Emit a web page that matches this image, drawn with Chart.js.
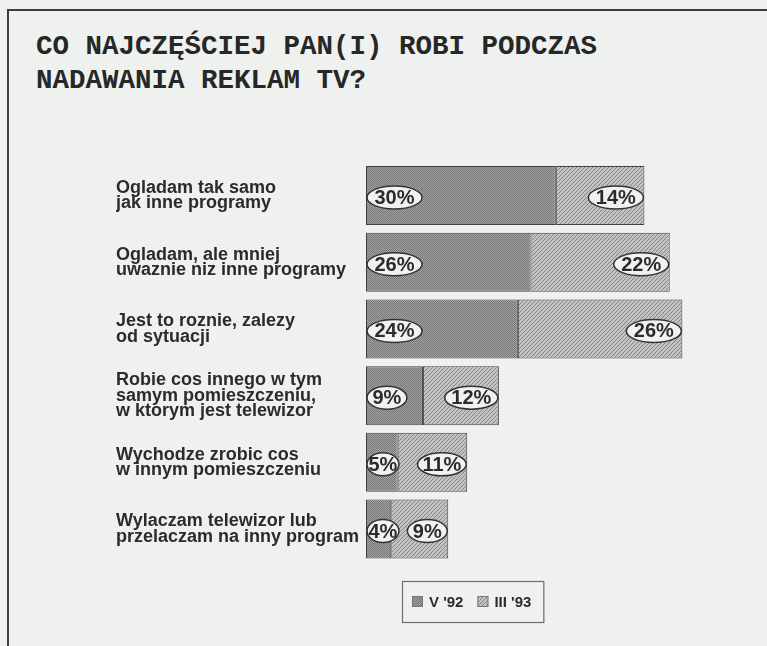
<!DOCTYPE html>
<html lang="pl">
<head>
<meta charset="utf-8">
<title>Co najczęściej pan(i) robi podczas nadawania reklam TV?</title>
<script src="https://cdn.jsdelivr.net/npm/chart.js@4.4.1/dist/chart.umd.min.js"></script>
<style>
  html, body { margin: 0; padding: 0; background: #eff1ef; overflow: hidden; }
  .frame {
    position: absolute; left: 7px; top: 9px; width: 800px; height: 700px;
    border-left: 2px solid #3d3f3e; border-top: 2px solid #3d3f3e;
  }
  h1 {
    position: absolute; left: 36px; top: 30px; margin: 0;
    font: bold 27.5px/34px "Liberation Mono", "Courier New", monospace;
    color: #262727; white-space: pre;
  }
  #chart { position: absolute; left: 9px; top: 11px; }
</style>
</head>
<body>
<div class="frame"></div>
<h1>CO NAJCZĘŚCIEJ PAN(I) ROBI PODCZAS
NADAWANIA REKLAM TV?</h1>
<canvas id="chart" width="750" height="635"></canvas>
<script>
const categories = [
  ['Ogladam tak samo', 'jak inne programy'],
  ['Ogladam, ale mniej', 'uwaznie niz inne programy'],
  ['Jest to roznie, zalezy', 'od sytuacji'],
  ['Robie cos innego w tym', 'samym pomieszczeniu,', 'w ktorym jest telewizor'],
  ['Wychodze zrobic cos', 'w innym pomieszczeniu'],
  ['Wylaczam telewizor lub', 'przelaczam na inny program']
]
const seriesNames = ["V '92", "III '93"]
const v92 = [30, 26, 24, 9, 5, 4]
const iii93 = [14, 22, 26, 12, 11, 9]

const FONT = '"Liberation Sans", Arial, Helvetica, sans-serif'
const INK = '#2a2b2b'

// raster-like fills: fine dots for V '92, diagonal hatch for III '93
function dotPattern() {
  const c = document.createElement('canvas')
  c.width = 2; c.height = 2
  const g = c.getContext('2d')
  g.fillStyle = '#a2a2a2'; g.fillRect(0, 0, 2, 2)
  g.fillStyle = '#777777'; g.fillRect(0, 0, 1, 1); g.fillRect(1, 1, 1, 1)
  return g.createPattern(c, 'repeat')
}
function hatchPattern() {
  const c = document.createElement('canvas')
  c.width = 4; c.height = 4
  const g = c.getContext('2d')
  g.fillStyle = '#c2c2c2'; g.fillRect(0, 0, 4, 4)
  g.fillStyle = '#868686'
  for (let i = 0; i < 4; i++) g.fillRect(3 - i, i, 1, 1)
  return g.createPattern(c, 'repeat')
}
const fills = [dotPattern(), hatchPattern()]

// percent values inside white ovals
const ovalLabels = {
  id: 'ovalLabels',
  afterDatasetsDraw(chart) {
    const ctx = chart.ctx
    ctx.save()
    ctx.font = 'bold 20px ' + FONT
    ctx.textAlign = 'center'
    ctx.textBaseline = 'middle'
    chart.data.datasets.forEach((ds, i) => {
      chart.getDatasetMeta(i).data.forEach((bar, j) => {
        const { x, y, base } = bar.getProps(['x', 'y', 'base'], true)
        const left = Math.min(x, base), right = Math.max(x, base)
        const seg = right - left
        const text = ds.data[j] + '%'
        const tw = ctx.measureText(text).width
        const w = Math.min(Math.max(seg * 0.7, tw + 3), tw + 15)
        const cx = i === 0 ? left + 1 + w / 2 : right - 1 - w / 2
        const cy = y + 2
        ctx.beginPath()
        ctx.ellipse(cx, cy, w / 2, 11.5, 0, 0, Math.PI * 2)
        ctx.fillStyle = '#f1f2f0'
        ctx.fill()
        ctx.lineWidth = 1.5
        ctx.strokeStyle = '#333'
        ctx.stroke()
        ctx.fillStyle = INK
        ctx.fillText(text, cx, cy + 1)
      })
    })
    ctx.restore()
  }
}

// boxed legend under the bars
const boxLegend = {
  id: 'boxLegend',
  afterDraw(chart) {
    const ctx = chart.ctx
    const area = chart.chartArea
    ctx.save()
    ctx.font = 'bold 15px ' + FONT
    ctx.textBaseline = 'middle'
    const left = area.left + 36
    const top = area.bottom + 18.6
    const h = 41
    const cy = top + h / 2
    let x = left + 10
    chart.data.datasets.forEach((ds, i) => {
      ctx.fillStyle = fills[i]
      ctx.fillRect(x, cy - 5.5, 11, 11)
      ctx.strokeStyle = '#777'
      ctx.lineWidth = 1
      ctx.strokeRect(x + 0.5, cy - 5, 10, 10)
      x += 17
      ctx.fillStyle = INK
      ctx.fillText(ds.label, x, cy + 1)
      x += ctx.measureText(ds.label).width + 14
    })
    const w = x - 14 + 12 - left
    ctx.strokeStyle = '#6d6d6d'
    ctx.lineWidth = 1.2
    ctx.strokeRect(left + 0.5, top + 0.5, w, h)
    ctx.restore()
  }
}

new Chart(document.getElementById('chart'), {
  type: 'bar',
  data: {
    labels: categories,
    datasets: [
      {
        label: seriesNames[0],
        data: v92,
        backgroundColor: fills[0],
        borderColor: '#404040',
        borderWidth: 1,
        borderSkipped: false
      },
      {
        label: seriesNames[1],
        data: iii93,
        backgroundColor: fills[1],
        borderColor: '#404040',
        borderWidth: 1,
        borderSkipped: false
      }
    ]
  },
  options: {
    indexAxis: 'y',
    responsive: false,
    animation: false,
    layout: { padding: { left: 107, right: 45, top: 151.2, bottom: 83.6 } },
    datasets: { bar: { barPercentage: 0.885, categoryPercentage: 1 } },
    scales: {
      x: { stacked: true, min: 0, max: 55, display: false },
      y: {
        stacked: true,
        grid: { display: false, drawTicks: false },
        border: { display: false },
        afterFit: (axis) => { axis.width = 250 },
        ticks: {
          crossAlign: 'far',
          padding: 4,
          color: INK,
          font: { family: FONT, size: 18, weight: 'bold', lineHeight: 0.85 }
        }
      }
    },
    plugins: {
      legend: { display: false },
      tooltip: { enabled: false }
    }
  },
  plugins: [ovalLabels, boxLegend]
})
</script>
</body>
</html>
